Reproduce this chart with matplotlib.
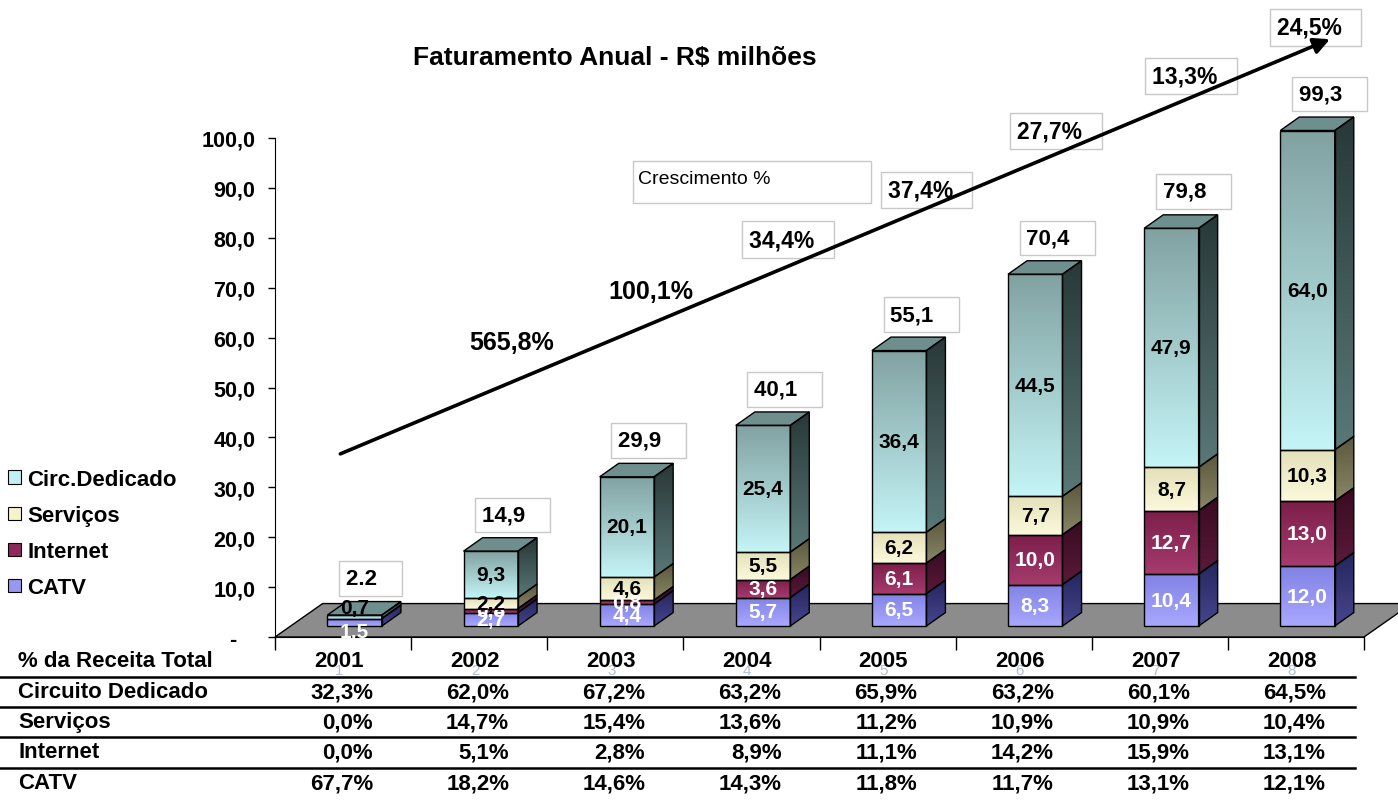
import numpy as np
import matplotlib
matplotlib.use("Agg")
import matplotlib.pyplot as plt
from matplotlib import transforms
from matplotlib.colors import LinearSegmentedColormap
from matplotlib.lines import Line2D
from matplotlib.patches import Patch, Polygon, Rectangle

plt.rcParams['font.family'] = ['Liberation Sans', 'DejaVu Sans']
NARROW = ['Liberation Sans Narrow', 'Liberation Sans', 'DejaVu Sans']

# faturamento por linha de negocio, R$ milhoes
anos = ['2001', '2002', '2003', '2004', '2005', '2006', '2007', '2008']
catv = [1.5, 2.7, 4.4, 5.7, 6.5, 8.3, 10.4, 12.0]
internet = [0.0, 0.8, 0.8, 3.6, 6.1, 10.0, 12.7, 13.0]
servicos = [0.0, 2.2, 4.6, 5.5, 6.2, 7.7, 8.7, 10.3]
circuito = [0.7, 9.3, 20.1, 25.4, 36.4, 44.5, 47.9, 64.0]
totais = [2.2, 14.9, 29.9, 40.1, 55.1, 70.4, 79.8, 99.3]
totais_txt = ['2.2', '14,9', '29,9', '40,1', '55,1', '70,4', '79,8', '99,3']
crescimento = ['565,8%', '100,1%', '34,4%', '37,4%', '27,7%', '13,3%', '24,5%']

# % da receita total
pct_circuito = ['32,3%', '62,0%', '67,2%', '63,2%', '65,9%', '63,2%', '60,1%', '64,5%']
pct_servicos = ['0,0%', '14,7%', '15,4%', '13,6%', '11,2%', '10,9%', '10,9%', '10,4%']
pct_internet = ['0,0%', '5,1%', '2,8%', '8,9%', '11,1%', '14,2%', '15,9%', '13,1%']
pct_catv = ['67,7%', '18,2%', '14,6%', '14,3%', '11,8%', '11,7%', '13,1%', '12,1%']

# posicoes dos rotulos de crescimento (x categoria, y valor) e se tem caixa
cresc_pos = [(0.93, 59.1), (1.95, 69.3), (2.98, 79.6), (4.0, 89.6),
             (4.95, 101.4), (5.94, 112.4), (6.86, 122.2)]
cresc_box = [False, False, True, True, True, True, True]

# aparencia das barras 3D
W, X_OFF, BASE, DX, DY = 0.40, -0.115, 2.2, 0.14, 2.7
# frente base, frente topo, lado base, lado topo, cor do texto
cores = [
    ('#a8a8ff', '#8282e4', '#46468e', '#25255e', 'white'),    # CATV
    ('#a53c6e', '#7c1e4a', '#5a1a3a', '#380b22', 'white'),    # Internet
    ('#fcf9dc', '#e4e0ba', '#8a8666', '#5a583e', 'black'),    # Servicos
    ('#c4f4f6', '#82a2a2', '#5a7878', '#283838', 'black'),    # Circ.Dedicado
]
cor_topo = '#6f8e8e'


def fy(py):
    return 1 - py / 804


def face(ax, verts, c_bot, c_top, z=3):
    verts = np.asarray(verts)
    poly = Polygon(verts, closed=True, fc='none', ec='black', lw=1.0, zorder=z + 0.01)
    ax.add_patch(poly)
    cmap = LinearSegmentedColormap.from_list('g', [c_bot, c_top])
    (x0, y0), (x1, y1) = verts.min(axis=0), verts.max(axis=0)
    im = ax.imshow(np.linspace(0, 1, 64).reshape(-1, 1), cmap=cmap, origin='lower',
                   extent=(x0, x1, y0, y1), aspect='auto', interpolation='bilinear', zorder=z)
    im.set_clip_path(poly)


def fmt(v):
    return f'{v:.1f}'.replace('.', ',')


fig = plt.figure(figsize=(13.98, 8.04), dpi=100)
ax = fig.add_axes([275 / 1398, fy(638), (1364 - 275) / 1398, 125 * 4.99 / 804])

x = np.arange(len(anos))

# piso cinza
ax.add_patch(Polygon([(-0.5, 0), (7.5, 0), (7.85, 6.7), (-0.15, 6.7)], closed=True,
                     fc='#8c8c8c', ec='black', lw=1, zorder=1, clip_on=False))

pilha = [catv, internet, servicos, circuito]
for i in range(len(anos)):
    x0 = x[i] + X_OFF
    acum = 0.0
    ativos = [k for k in range(len(pilha)) if pilha[k][i] > 0]
    for k in ativos:
        v = pilha[k][i]
        c = cores[k]
        b, t = BASE + acum, BASE + acum + v
        face(ax, [(x0 + W, b), (x0 + W + DX, b + DY), (x0 + W + DX, t + DY), (x0 + W, t)], c[2], c[3])
        face(ax, [(x0, b), (x0 + W, b), (x0 + W, t), (x0, t)], c[0], c[1])
        ly = b + v / 2
        # segmentos finos: rotulo afastado para cima/baixo
        if v < 2 and k == ativos[0]:
            ly -= 1.8
        elif v < 2 and k == ativos[-1]:
            ly += 1.8
        ax.text(x0 + W / 2, ly, fmt(v), ha='center', va='center', fontsize=15,
                fontweight='bold', color=c[4], zorder=5)
        acum += v
    top = BASE + acum
    ax.add_patch(Polygon([(x0, top), (x0 + W, top), (x0 + W + DX, top + DY), (x0 + DX, top + DY)],
                         closed=True, fc=cor_topo, ec='black', lw=1, zorder=3))
    ax.text(x[i] + 0.02, totais[i] + 9.5, totais_txt[i] + '   ', ha='left', va='center',
            fontsize=16, fontweight='bold', zorder=6,
            bbox=dict(boxstyle='square,pad=0.3', fc='white', ec='#c8c8c8', lw=1))

# seta de crescimento
ax.annotate('', xy=(7.25, 119.8), xytext=(-0.02, 36.7), annotation_clip=False,
            arrowprops=dict(arrowstyle='-|>', color='black', lw=2.6, mutation_scale=24,
                            shrinkA=0, shrinkB=0), zorder=8)

for txt, (px, py), box in zip(crescimento, cresc_pos, cresc_box):
    if box:
        ax.text(px, py, txt + '  ', ha='left', va='center', fontsize=16.5, fontweight='bold',
                zorder=7, bbox=dict(boxstyle='square,pad=0.3', fc='white', ec='#c8c8c8', lw=1))
    else:
        ax.text(px, py, txt, ha='left', va='center', fontsize=18, fontweight='bold',
                family=NARROW, zorder=7)

ax.add_patch(Rectangle((2.13, 87.0), 1.75, 8.3, fc='white', ec='#c8c8c8', lw=1,
                       zorder=6, clip_on=False))
ax.text(2.17, 91.9, 'Crescimento %', ha='left', va='center', fontsize=14, zorder=7)

# eixos
ax.set_xlim(-0.5, 7.5)
ax.set_ylim(0, 125)
ax.set_yticks(np.arange(0, 101, 10))
ax.set_yticklabels(['-   '] + [f'{v},0' for v in range(10, 101, 10)])
for lab in ax.get_yticklabels():
    lab.set_fontweight('bold')
ax.tick_params(axis='y', length=5, width=1, pad=9, labelsize=15.5)
ax.set_xticks(np.arange(-0.5, 8, 1))
ax.set_xticklabels([])
ax.tick_params(axis='x', length=9, width=1)
for s in ['top', 'right']:
    ax.spines[s].set_visible(False)
ax.spines['left'].set_bounds(0, 100)
ax.patch.set_visible(False)

fig.text(0.44, fy(58), 'Faturamento Anual - R$ milhões', ha='center', va='center',
         fontsize=19, fontweight='bold')

# legenda
nomes = ['Circ.Dedicado', 'Serviços', 'Internet', 'CATV']
cores_leg = ['#c0f0f0', '#f6f2cc', '#8e2a5a', '#9898f0']
handles = [Patch(fc=c, ec='black', lw=0.8) for c in cores_leg]
fig.legend(handles, nomes, loc='upper left', bbox_to_anchor=(0.006, fy(470)), frameon=False,
           prop={'weight': 'bold', 'size': 16}, handlelength=0.55, handleheight=0.55,
           handletextpad=0.3, labelspacing=0.68, borderaxespad=0, borderpad=0)

# tabela % da receita
tr = transforms.blended_transform_factory(ax.transData, fig.transFigure)
linhas = [('Circuito Dedicado', pct_circuito, 693), ('Serviços', pct_servicos, 723),
          ('Internet', pct_internet, 753), ('CATV', pct_catv, 784)]
fig.text(18 / 1398, fy(662), '% da Receita Total', ha='left', va='center', fontsize=16,
         fontweight='bold', family=NARROW)
for i, a in enumerate(anos):
    ax.text(x[i] - 0.03, fy(671), str(i + 1), transform=tr, ha='center', va='center',
            fontsize=11, color='#b4bed0', zorder=1)
    ax.text(x[i] - 0.03, fy(662), a, transform=tr, ha='center', va='center', fontsize=16,
            fontweight='bold', family=NARROW, zorder=2)
for nome, vals, py in linhas:
    fig.text(18 / 1398, fy(py), nome, ha='left', va='center', fontsize=16,
             fontweight='bold', family=NARROW)
    for i, v in enumerate(vals):
        ax.text(x[i] + 0.22, fy(py), v, transform=tr, ha='right', va='center', fontsize=16,
                fontweight='bold', family=NARROW)
for py in [678, 708, 738, 769]:
    fig.add_artist(Line2D([0, 1355 / 1398], [fy(py), fy(py)], color='black', lw=1.8))

fig.savefig('out.png', dpi=100)
